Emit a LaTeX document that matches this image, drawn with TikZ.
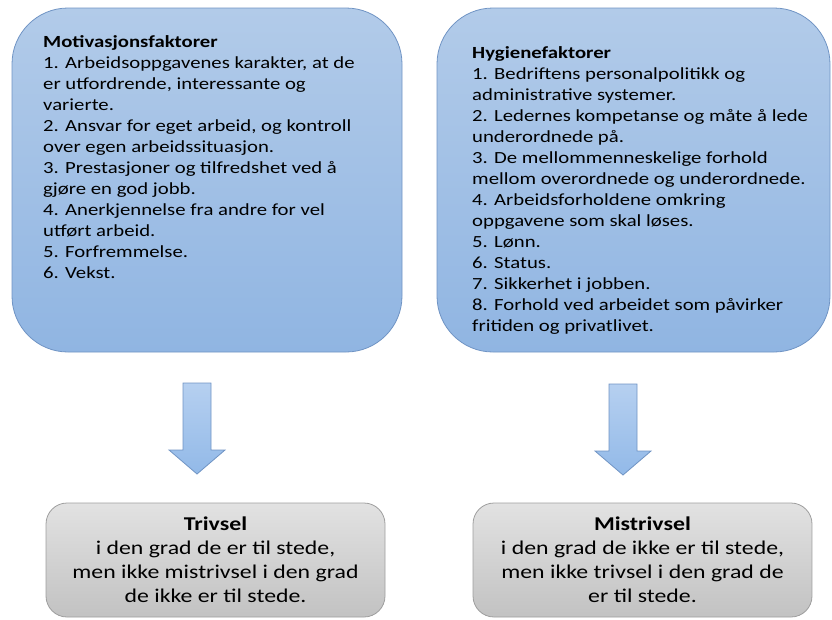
\documentclass[tikz,border=0pt]{standalone}
\usepackage{fontspec}
\setmainfont{Carlito}[FakeStretch=1.22]
\definecolor{bluetop}{RGB}{178,203,233}
\definecolor{bluebot}{RGB}{144,181,226}
\definecolor{blueline}{RGB}{112,148,196}
\definecolor{greytop}{RGB}{226,226,226}
\definecolor{greybot}{RGB}{194,194,194}
\definecolor{greyline}{RGB}{158,158,158}
\definecolor{arrowtop}{RGB}{182,208,240}
\definecolor{arrowbot}{RGB}{146,185,232}

\begin{document}
\begin{tikzpicture}[x=1pt,y=-1pt,
        factorbox/.style={draw=blueline, line width=0.8pt, rounded corners=56pt,
            top color=bluetop, bottom color=bluebot, inner sep=0pt,
            minimum width=#1, minimum height=344pt},
        factortext/.style={anchor=north west, align=left, inner sep=0pt,
            font=\fontsize{17}{21}\selectfont},
        resultbox/.style={draw=greyline, line width=0.8pt, rounded corners=21pt,
            top color=greytop, bottom color=greybot, inner sep=0pt,
            minimum width=339pt, minimum height=114pt, align=center,
            font=\fontsize{19.5}{24}\selectfont},
        fatarrow/.pic={
            \draw[draw=blueline, line width=0.8pt, top color=arrowtop, bottom color=arrowbot]
                (-14,0) -- (14,0) -- (14,67) -- (28,67) -- (0,91)
                -- (-28,67) -- (-14,67) -- cycle;
        }]
    \useasboundingbox (0,0) rectangle (832,619);
    \node[factorbox=390pt] (motiv) at (207,180) {};
    \node[factorbox=393pt] (hyg) at (633.5,180) {};
    \node[factortext] (motivtext) at (43,35.5) {\textbf{Motivasjonsfaktorer}\\
        1. Arbeidsoppgavenes karakter, at de\\
        er utfordrende, interessante og\\
        varierte.\\
        2. Ansvar for eget arbeid, og kontroll\\
        over egen arbeidssituasjon.\\
        3. Prestasjoner og tilfredshet ved å\\
        gjøre en god jobb.\\
        4. Anerkjennelse fra andre for vel\\
        utført arbeid.\\
        5. Forfremmelse.\\
        6. Vekst.};
    \node[factortext] (hygtext) at (472,46.5) {\textbf{Hygienefaktorer}\\
        1. Bedriftens personalpolitikk og\\
        administrative systemer.\\
        2. Ledernes kompetanse og måte å lede\\
        underordnede på.\\
        3. De mellommenneskelige forhold\\
        mellom overordnede og underordnede.\\
        4. Arbeidsforholdene omkring\\
        oppgavene som skal løses.\\
        5. Lønn.\\
        6. Status.\\
        7. Sikkerhet i jobben.\\
        8. Forhold ved arbeidet som påvirker\\
        fritiden og privatlivet.};
    \coordinate (motivarrow) at (197,383);
    \coordinate (hygarrow) at (623,384);
    \pic at (motivarrow) {fatarrow};
    \pic at (hygarrow) {fatarrow};
    \node[resultbox] (trivsel) at (215.5,560) {\textbf{Trivsel}\\
        i den grad de er til stede,\\
        men ikke mistrivsel i den grad\\
        de ikke er til stede.};
    \node[resultbox] (mistrivsel) at (642.5,560) {\textbf{Mistrivsel}\\
        i den grad de ikke er til stede,\\
        men ikke trivsel i den grad de\\
        er til stede.};
\end{tikzpicture}
\end{document}
